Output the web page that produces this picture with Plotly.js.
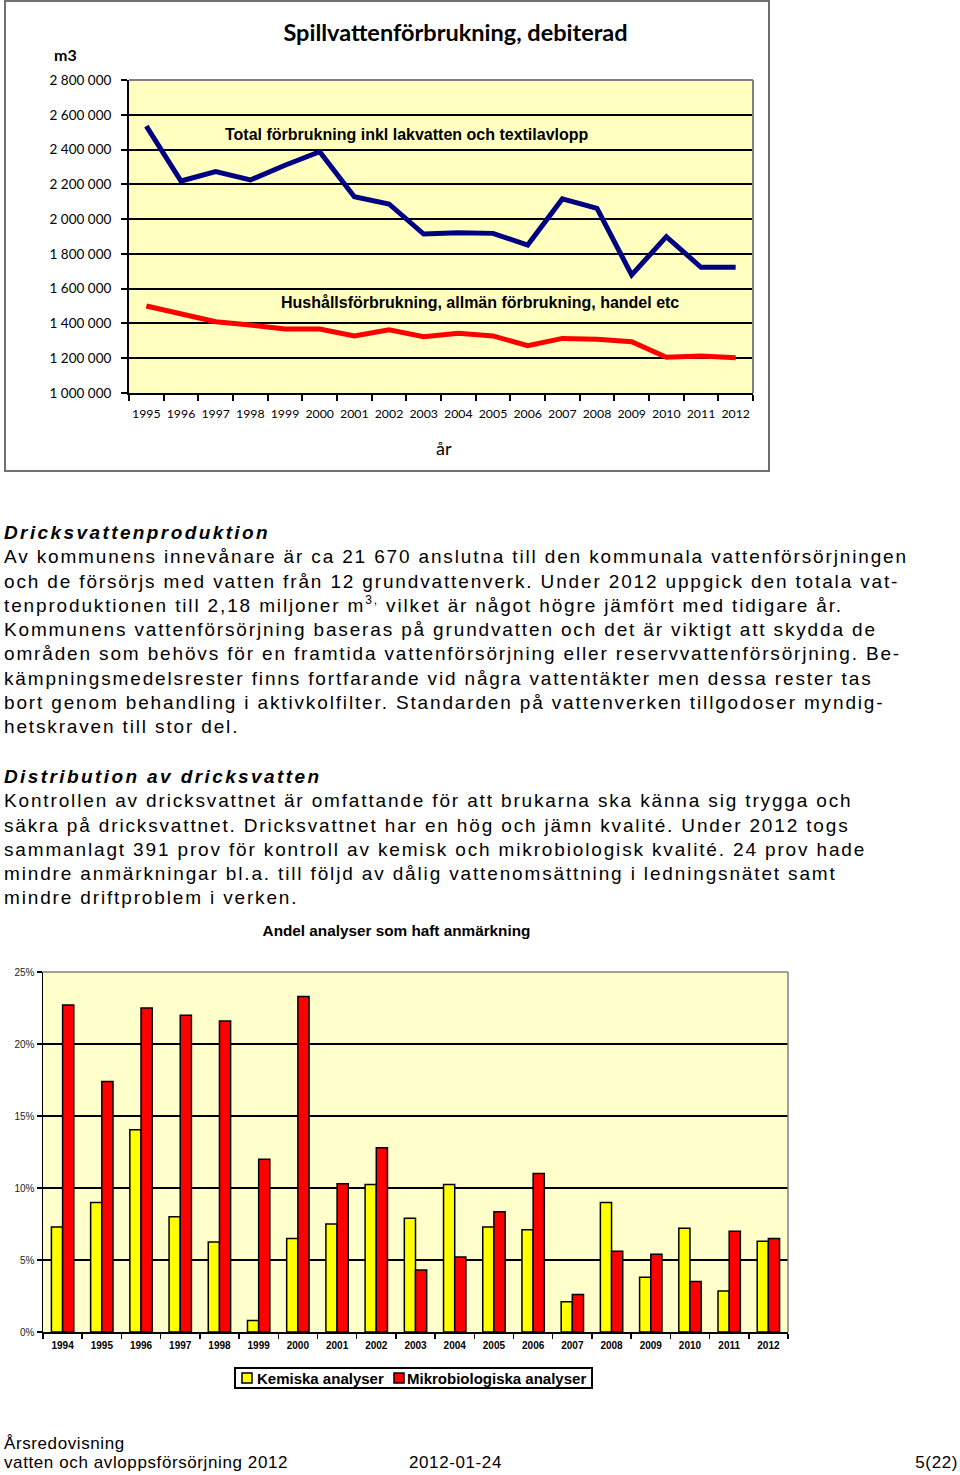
<!DOCTYPE html>
<html>
<head>
<meta charset="utf-8">
<script src="https://cdn.plot.ly/plotly-3.0.1.min.js"></script>
<style>
  html, body { margin:0; padding:0; background:#fff; }
  body { width:960px; height:1475px; position:relative; overflow:hidden; }
  #box { position:absolute; left:4px; top:0px; width:762px; height:468px; border:2px solid #707070; }
  #top { position:absolute; left:0; top:0; width:960px; height:480px; }
  #bars { position:absolute; left:0; top:900px; width:960px; height:500px; }
  .txt { position:absolute; left:4px; font-family:"Liberation Sans", Arial, sans-serif; font-size:19px; line-height:24.3px; letter-spacing:1.85px; color:#000; white-space:nowrap; }
  .txt .h { font-weight:bold; font-style:italic; letter-spacing:2.4px; }
  .txt sup { font-size:12px; line-height:0; vertical-align:8px; }
  .foot { position:absolute; font-family:"Liberation Sans Narrow", "Liberation Sans", Arial, sans-serif; font-size:17px; letter-spacing:0.6px; white-space:nowrap; line-height:19px; }
</style>
</head>
<body>
<div id="box"></div>
<div id="top"></div>

<div class="txt" style="top:521px;">
<div class="h">Dricksvattenproduktion</div>
<div>Av kommunens innevånare är ca 21 670 anslutna till den kommunala vattenförsörjningen</div>
<div>och de försörjs med vatten från 12 grundvattenverk. Under 2012 uppgick den totala vat-</div>
<div>tenproduktionen till 2,18 miljoner m<sup>3,</sup> vilket är något högre jämfört med tidigare år.</div>
<div>Kommunens vattenförsörjning baseras på grundvatten och det är viktigt att skydda de</div>
<div>områden som behövs för en framtida vattenförsörjning eller reservvattenförsörjning. Be-</div>
<div>kämpningsmedelsrester finns fortfarande vid några vattentäkter men dessa rester tas</div>
<div>bort genom behandling i aktivkolfilter. Standarden på vattenverken tillgodoser myndig-</div>
<div>hetskraven till stor del.</div>
</div>

<div class="txt" style="top:765px;">
<div class="h">Distribution av dricksvatten</div>
<div>Kontrollen av dricksvattnet är omfattande för att brukarna ska känna sig trygga och</div>
<div>säkra på dricksvattnet. Dricksvattnet har en hög och jämn kvalité. Under 2012 togs</div>
<div>sammanlagt 391 prov för kontroll av kemisk och mikrobiologisk kvalité. 24 prov hade</div>
<div>mindre anmärkningar bl.a. till följd av dålig vattenomsättning i ledningsnätet samt</div>
<div>mindre driftproblem i verken.</div>
</div>

<div id="bars"></div>

<div class="foot" style="left:4px; top:1434px;">Årsredovisning<br>vatten och avloppsförsörjning 2012</div>
<div class="foot" style="left:409px; top:1453px;">2012-01-24</div>
<div class="foot" style="right:2px; top:1453px;">5(22)</div>

<script>
// ---------- Data: top chart ----------
const years1 = ['1995','1996','1997','1998','1999','2000','2001','2002','2003','2004','2005','2006','2007','2008','2009','2010','2011','2012'];
const totalUse = [2535000, 2219000, 2273000, 2225000, 2310000, 2388000, 2129000, 2087000, 1914000, 1922000, 1918000, 1851000, 2116000, 2062000, 1679000, 1899000, 1723000, 1723000];
const householdUse = [1500000, 1454000, 1410000, 1391000, 1368000, 1368000, 1328000, 1364000, 1324000, 1343000, 1328000, 1272000, 1314000, 1309000, 1295000, 1205000, 1213000, 1203000];
const yTicks1 = [1000000, 1200000, 1400000, 1600000, 1800000, 2000000, 2200000, 2400000, 2600000, 2800000];

// ---------- Data: bar chart ----------
const years2 = ['1994','1995','1996','1997','1998','1999','2000','2001','2002','2003','2004','2005','2006','2007','2008','2009','2010','2011','2012'];
const kemiska = [0.073, 0.090, 0.1405, 0.080, 0.0625, 0.008, 0.065, 0.075, 0.1025, 0.079, 0.1025, 0.073, 0.071, 0.021, 0.090, 0.038, 0.072, 0.0285, 0.063];
const mikro = [0.227, 0.174, 0.225, 0.220, 0.216, 0.120, 0.233, 0.103, 0.128, 0.043, 0.052, 0.0835, 0.110, 0.026, 0.056, 0.054, 0.035, 0.070, 0.065];
const seriesNames = ['Kemiska analyser', 'Mikrobiologiska analyser'];
const seriesColors = ['#ffff00', '#ff0000'];

const calib = 'Lato, "Open Sans", sans-serif';
const arial = '"Liberation Sans", Arial, sans-serif';

// ---------- Top chart ----------
Plotly.newPlot('top', [
  { type:'scatter', mode:'lines', x:years1, y:totalUse, name:'Total',
    line:{color:'#000080', width:5}, showlegend:false, hoverinfo:'skip' },
  { type:'scatter', mode:'lines', x:years1, y:householdUse, name:'Hushåll',
    line:{color:'#ff0000', width:5}, showlegend:false, hoverinfo:'skip' }
], {
  width:960, height:480,
  margin:{l:129, r:207, t:80, b:87},
  paper_bgcolor:'rgba(0,0,0,0)',
  plot_bgcolor:'#ffffc0',
  separators:', ',
  title:{text:'<b>Spillvattenförbrukning, debiterad</b>', x:0.4745, xref:'container', xanchor:'center',
         y:1-33/480, yref:'container', yanchor:'middle', font:{family:calib, size:23.5, color:'#000'}},
  xaxis:{type:'category', range:[-0.5, years1.length-0.5], tickson:'boundaries', ticks:'outside', ticklen:6, tickwidth:2, tickcolor:'#000',
         tickangle:0, showline:true, linecolor:'#000', linewidth:2, showgrid:false, fixedrange:true,
         ticklabelstandoff:8, tickfont:{family:calib, size:12.3, color:'#000'}},
  yaxis:{range:[1000000, 2800000], tickvals:yTicks1, tickformat:',.0f', ticks:'outside', ticklen:6, tickwidth:2,
         tickcolor:'#000', showline:true, linecolor:'#000', linewidth:2, showgrid:true, gridcolor:'#000',
         gridwidth:2, zeroline:false, fixedrange:true, ticklabelstandoff:7, tickfont:{family:calib, size:13.5, color:'#000'}},
  shapes:[
    {type:'line', xref:'paper', yref:'paper', x0:0, x1:1, y0:1, y1:1, line:{color:'#808080', width:2}, layer:'above'},
    {type:'line', xref:'paper', yref:'paper', x0:1, x1:1, y0:0, y1:1, line:{color:'#808080', width:2}, layer:'above'}
  ],
  annotations:[
    {text:'<b>Total förbrukning inkl lakvatten och textilavlopp</b>', xref:'paper', yref:'paper', x:(406.5-129)/624, y:(393-134)/313,
     xanchor:'center', yanchor:'middle', showarrow:false, font:{family:arial, size:16, color:'#000'}},
    {text:'<b>Hushållsförbrukning, allmän förbrukning, handel etc</b>', xref:'paper', yref:'paper', x:(479.5-129)/624, y:(393-302)/313,
     xanchor:'center', yanchor:'middle', showarrow:false, font:{family:arial, size:16, color:'#000'}},
    {text:'<b>m3</b>', xref:'paper', yref:'paper', x:(52-129)/624, y:(393-55)/313, xanchor:'left', yanchor:'middle',
     showarrow:false, font:{family:calib, size:16, color:'#000'}},
    {text:'år', xref:'paper', yref:'paper', x:(444-129)/624, y:(393-448)/313, xanchor:'center', yanchor:'middle',
     showarrow:false, font:{family:calib, size:18, color:'#000'}}
  ]
}, {staticPlot:true});

// ---------- Bar chart ----------
// plot area in div coords: x 43..788, y 72..432
const px = v => (v - 43) / 745;      // page x -> paper x
const py = v => (432 - (v - 900)) / 360; // page y -> paper y

Plotly.newPlot('bars', [
  { type:'bar', x:years2, y:kemiska, name:seriesNames[0],
    marker:{color:seriesColors[0], line:{color:'#000', width:1.5}}, hoverinfo:'skip' },
  { type:'bar', x:years2, y:mikro, name:seriesNames[1],
    marker:{color:seriesColors[1], line:{color:'#000', width:1.5}}, hoverinfo:'skip' }
], {
  width:960, height:500,
  margin:{l:43, r:172, t:72, b:68},
  paper_bgcolor:'rgba(0,0,0,0)',
  plot_bgcolor:'#ffffcc',
  barmode:'group', bargap:0.43, bargroupgap:0,
  title:{text:'<b>Andel analyser som haft anmärkning</b>', x:396.5/960, xref:'container', xanchor:'center',
         y:1-31/500, yref:'container', yanchor:'middle', font:{family:arial, size:15.3, color:'#000'}},
  xaxis:{type:'category', tickson:'boundaries', ticks:'outside', ticklen:5, tickwidth:1.5, tickcolor:'#000',
         tickangle:0, showline:true, linecolor:'#000', linewidth:1.5, showgrid:false, fixedrange:true, ticklabelstandoff:3,
         tickfont:{family:arial, size:10, color:'#000', weight:'bold'}},
  yaxis:{range:[0, 0.25], dtick:0.05, tickformat:'.0%', ticks:'outside', ticklen:5, tickwidth:1.5, tickcolor:'#000',
         showline:true, linecolor:'#000', linewidth:1.5, showgrid:true, gridcolor:'#000', gridwidth:1.5,
         zeroline:false, fixedrange:true, tickfont:{family:arial, size:10, color:'#222'}},
  showlegend:false,
  shapes:[
    {type:'line', xref:'paper', yref:'paper', x0:0, x1:1, y0:1, y1:1, line:{color:'#808080', width:1.5}, layer:'above'},
    {type:'line', xref:'paper', yref:'paper', x0:1, x1:1, y0:0, y1:1, line:{color:'#808080', width:1.5}, layer:'above'},
    // legend box
    {type:'rect', xref:'paper', yref:'paper', x0:px(235), x1:px(592), y0:py(1388), y1:py(1368),
     line:{color:'#000', width:2}, fillcolor:'#fff', layer:'above'},
    {type:'rect', xref:'paper', yref:'paper', x0:px(242), x1:px(252), y0:py(1383), y1:py(1373),
     line:{color:'#000', width:1.5}, fillcolor:seriesColors[0], layer:'above'},
    {type:'rect', xref:'paper', yref:'paper', x0:px(394), x1:px(404), y0:py(1383), y1:py(1373),
     line:{color:'#000', width:1.5}, fillcolor:seriesColors[1], layer:'above'}
  ],
  annotations:[
    {text:'<b>'+seriesNames[0]+'</b>', xref:'paper', yref:'paper', x:px(255), y:py(1378), xanchor:'left', yanchor:'middle',
     showarrow:false, font:{family:arial, size:15, color:'#000'}},
    {text:'<b>'+seriesNames[1]+'</b>', xref:'paper', yref:'paper', x:px(405), y:py(1378), xanchor:'left', yanchor:'middle',
     showarrow:false, font:{family:arial, size:15, color:'#000'}}
  ]
}, {staticPlot:true});
</script>
</body>
</html>
